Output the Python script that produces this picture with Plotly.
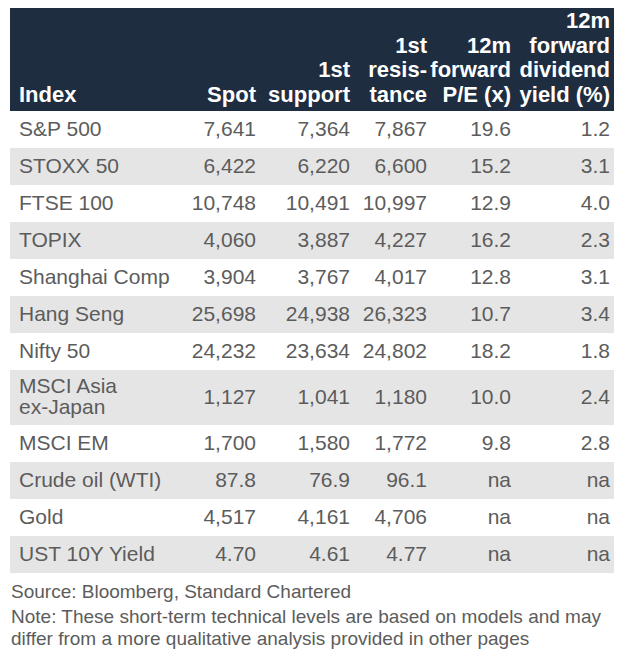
import plotly.graph_objects as go

# short-term technical levels
indices = ["S&P 500", "STOXX 50", "FTSE 100", "TOPIX", "Shanghai Comp", "Hang Seng",
           "Nifty 50", "MSCI Asia<br>ex-Japan", "MSCI EM", "Crude oil (WTI)", "Gold", "UST 10Y Yield"]
spot = [7641, 6422, 10748, 4060, 3904, 25698, 24232, 1127, 1700, 87.8, 4517, 4.70]
support = [7364, 6220, 10491, 3887, 3767, 24938, 23634, 1041, 1580, 76.9, 4161, 4.61]
resistance = [7867, 6600, 10997, 4227, 4017, 26323, 24802, 1180, 1772, 96.1, 4706, 4.77]
decimals = [0, 0, 0, 0, 0, 0, 0, 0, 0, 1, 0, 2]
pe = [19.6, 15.2, 12.9, 16.2, 12.8, 10.7, 18.2, 10.0, 9.8, None, None, None]
div_yield = [1.2, 3.1, 4.0, 2.3, 3.1, 3.4, 1.8, 2.4, 2.8, None, None, None]

headers = ["Index", "Spot", "1st<br>support", "1st<br>resis-<br>tance",
           "12m<br>forward<br>P/E (x)", "12m<br>forward<br>dividend<br>yield (%)"]

source = "Source: Bloomberg, Standard Chartered"
note = ["Note: These short-term technical levels are based on models and may",
        "differ from a more qualitative analysis provided in other pages"]

# styling / layout, in page pixels (the page body has an 8px margin)
W, H = 624, 660
PAGE_MARGIN = 8
NAVY = "#1f2d40"
GREY = "#e5e5e5"
TEXT = "#5c5c5c"
FONT = "Liberation Sans, Arial, sans-serif"
TABLE_L, TABLE_R = 10, 614
HEAD_TOP, HEAD_BOT = 7, 111
ROW_H, LINE_H = 37, 21
HEAD_LINE = 24.5
col_x = [19, 256, 350, 427, 511, 610]          # left edge of first column, right edges of others
body_size, head_size = 21, 22


def fmt_level(vals):
    return [f"{v:,.{d}f}" for v, d in zip(vals, decimals)]


def fmt_ratio(vals):
    return ["na" if v is None else f"{v:.1f}" for v in vals]


columns = [indices, fmt_level(spot), fmt_level(support), fmt_level(resistance),
           fmt_ratio(pe), fmt_ratio(div_yield)]

# row geometry from the number of text lines in each row
n_lines = [lab.count("<br>") + 1 for lab in indices]
heights = [ROW_H + (k - 1) * (LINE_H - 3) for k in n_lines]
centers, top = [], HEAD_BOT
for h in heights:
    centers.append(top + h / 2)
    top += h
fills = ["white" if i % 2 == 0 else GREY for i in range(len(indices))]

fig = go.Figure()

# header band and row bands
fig.add_trace(go.Bar(orientation="h", y=[(HEAD_TOP + HEAD_BOT) / 2], x=[TABLE_R - TABLE_L],
                     base=TABLE_L, width=[HEAD_BOT - HEAD_TOP], marker=dict(color=NAVY, line_width=0)))
fig.add_trace(go.Bar(orientation="h", y=centers, x=[TABLE_R - TABLE_L] * len(centers),
                     base=TABLE_L, width=heights, marker=dict(color=fills, line_width=0)))

# header text, bottom aligned
for j, head in enumerate(headers):
    lines = head.split("<br>")
    ys = [HEAD_BOT - 15 - (len(lines) - 1 - k) * HEAD_LINE for k in range(len(lines))]
    fig.add_trace(go.Scatter(x=[col_x[j]] * len(lines), y=ys, text=[f"<b>{t}</b>" for t in lines],
                             mode="text", textposition="middle right" if j == 0 else "middle left",
                             textfont=dict(family=FONT, size=head_size, color="white")))

# body text
for j, col in enumerate(columns):
    xs, ys, ts = [], [], []
    for i, cell in enumerate(col):
        lines = cell.split("<br>")
        for k, t in enumerate(lines):
            xs.append(col_x[j])
            ys.append(centers[i] + 1 + (k - (len(lines) - 1) / 2) * LINE_H)
            ts.append(t)
    fig.add_trace(go.Scatter(x=xs, y=ys, text=ts, mode="text",
                             textposition="middle right" if j == 0 else "middle left",
                             textfont=dict(family=FONT, size=body_size, color=TEXT)))

# footnotes
for k, t in enumerate([source] + note):
    fig.add_annotation(text=t, x=TABLE_L, y=591 + k * 22 + (3 if k else 0), xref="x", yref="y",
                       xanchor="left", yanchor="middle", showarrow=False, borderpad=0,
                       font=dict(family=FONT, size=19, color=TEXT))

fig.update_layout(width=W - PAGE_MARGIN, height=H - 2 * PAGE_MARGIN,
                  margin=dict(l=0, r=0, t=0, b=0),
                  paper_bgcolor="white", plot_bgcolor="white",
                  barmode="overlay", showlegend=False, hovermode=False,
                  xaxis=dict(range=[PAGE_MARGIN, W], visible=False, fixedrange=True),
                  yaxis=dict(range=[H - PAGE_MARGIN, PAGE_MARGIN], visible=False, fixedrange=True))

fig.write_html("out.html")
